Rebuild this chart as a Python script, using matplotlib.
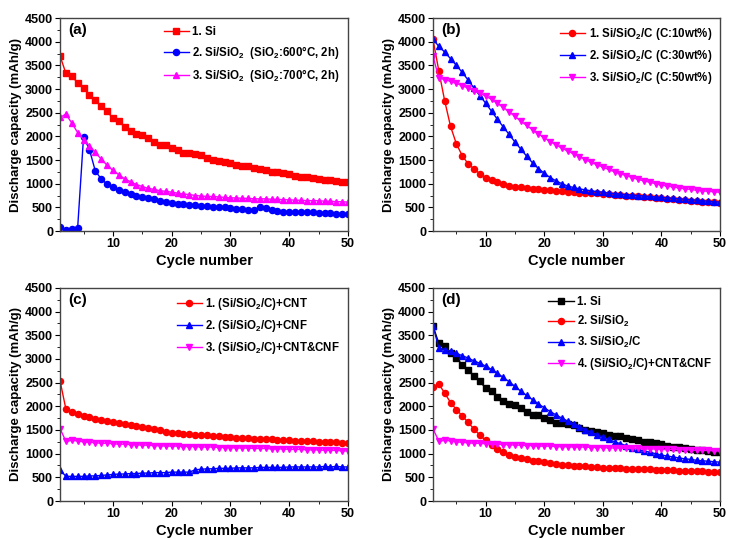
"""Discharge capacity vs. cycle number for Si-based anodes, four panels."""

import matplotlib

matplotlib.use("Agg")
import matplotlib.pyplot as plt
from matplotlib.ticker import MultipleLocator

plt.rcParams["font.family"] = ["Liberation Sans", "DejaVu Sans"]
plt.rcParams["font.weight"] = "bold"
plt.rcParams["mathtext.fontset"] = "custom"
plt.rcParams["mathtext.bf"] = "Liberation Sans:bold"
plt.rcParams["mathtext.rm"] = "Liberation Sans:bold"
plt.rcParams["mathtext.default"] = "bf"

cycles = list(range(1, 51))

# (a) Si, Si/SiO2 600C, Si/SiO2 700C
si = [3700, 3330, 3270, 3130, 3020, 2880, 2770, 2640, 2530, 2380,
      2320, 2200, 2120, 2050, 2030, 1960, 1890, 1820, 1820, 1760,
      1720, 1640, 1640, 1630, 1600, 1540, 1500, 1470, 1460, 1430,
      1400, 1380, 1370, 1340, 1310, 1280, 1250, 1250, 1230, 1200,
      1170, 1140, 1140, 1110, 1090, 1070, 1080, 1060, 1040, 1040]
si_sio2_600 = [90, 30, 40, 70, 1990, 1720, 1270, 1100, 990, 920,
               870, 820, 780, 740, 710, 690, 670, 640, 620, 600,
               580, 570, 560, 550, 530, 520, 510, 500, 500, 490,
               470, 460, 450, 450, 500, 480, 450, 420, 410, 410,
               410, 410, 400, 400, 390, 390, 380, 370, 350, 360]
si_sio2_700 = [2400, 2470, 2280, 2080, 1930, 1800, 1660, 1520, 1390, 1280,
               1190, 1100, 1040, 980, 940, 900, 880, 850, 840, 820,
               800, 780, 770, 750, 740, 730, 730, 720, 710, 700,
               700, 690, 690, 680, 680, 680, 670, 670, 660, 660,
               650, 650, 640, 640, 640, 630, 630, 620, 620, 610]

# (b) Si/SiO2/C with 10, 30, 50 wt% C
c10 = [4050, 3380, 2750, 2210, 1840, 1590, 1420, 1310, 1210, 1130,
       1080, 1030, 990, 960, 940, 920, 900, 890, 880, 870,
       860, 850, 840, 830, 820, 810, 810, 800, 800, 790,
       780, 770, 760, 750, 740, 730, 720, 710, 700, 690,
       680, 670, 660, 650, 640, 630, 620, 620, 610, 600]
c30 = [4050, 3900, 3780, 3640, 3500, 3350, 3190, 3020, 2860, 2700,
       2530, 2360, 2200, 2040, 1880, 1730, 1580, 1440, 1320, 1220,
       1130, 1060, 1000, 950, 920, 890, 870, 850, 830, 820,
       800, 790, 780, 770, 760, 750, 740, 730, 720, 710,
       700, 690, 680, 670, 660, 650, 640, 630, 620, 610]
c50 = [3700, 3230, 3200, 3160, 3120, 3070, 3020, 2960, 2910, 2850,
       2780, 2700, 2610, 2520, 2420, 2320, 2230, 2140, 2050, 1970,
       1890, 1820, 1750, 1690, 1630, 1570, 1510, 1450, 1400, 1350,
       1300, 1250, 1210, 1170, 1130, 1090, 1060, 1030, 1000, 970,
       950, 930, 910, 890, 880, 860, 850, 840, 830, 820]

# (c) (Si/SiO2/C) + CNT, CNF, CNT&CNF
cnt = [2540, 1940, 1880, 1840, 1800, 1770, 1740, 1710, 1690, 1660,
       1640, 1620, 1600, 1580, 1560, 1540, 1520, 1500, 1450, 1440,
       1430, 1420, 1410, 1400, 1400, 1390, 1380, 1370, 1360, 1350,
       1340, 1330, 1330, 1320, 1310, 1300, 1300, 1290, 1290, 1280,
       1270, 1270, 1260, 1260, 1250, 1250, 1240, 1240, 1230, 1230]
cnf = [660, 520, 520, 520, 520, 530, 530, 540, 550, 560,
       570, 570, 580, 580, 590, 590, 600, 600, 600, 610,
       610, 610, 610, 660, 670, 680, 680, 690, 690, 690,
       700, 700, 700, 700, 710, 710, 710, 710, 710, 720,
       720, 720, 720, 720, 720, 730, 720, 730, 720, 720]
cnt_cnf = [1530, 1260, 1280, 1270, 1250, 1240, 1230, 1220, 1220, 1210,
           1200, 1200, 1190, 1190, 1180, 1180, 1170, 1170, 1160, 1160,
           1160, 1150, 1150, 1150, 1140, 1140, 1140, 1130, 1130, 1130,
           1120, 1120, 1120, 1110, 1110, 1110, 1100, 1100, 1100, 1090,
           1090, 1090, 1080, 1080, 1080, 1070, 1070, 1070, 1060, 1060]

RED, BLUE, MAGENTA, BLACK = "#ff0000", "#0000ff", "#ff00ff", "#000000"

panels = [
    ("(a)", [0.0819, 0.5714, 0.3929, 0.3952], [
        (si, "1. Si", RED, "s"),
        (si_sio2_600, "2. Si/SiO$_2$  (SiO$_2$:600\u00b0C, 2h)", BLUE, "o"),
        (si_sio2_700, "3. Si/SiO$_2$  (SiO$_2$:700\u00b0C, 2h)", MAGENTA, "^"),
    ]),
    ("(b)", [0.5907, 0.5714, 0.3915, 0.3952], [
        (c10, "1. Si/SiO$_2$/C (C:10wt%)", RED, "o"),
        (c30, "2. Si/SiO$_2$/C (C:30wt%)", BLUE, "^"),
        (c50, "3. Si/SiO$_2$/C (C:50wt%)", MAGENTA, "v"),
    ]),
    ("(c)", [0.0819, 0.0705, 0.3929, 0.3952], [
        (cnt, "1. (Si/SiO$_2$/C)+CNT", RED, "o"),
        (cnf, "2. (Si/SiO$_2$/C)+CNF", BLUE, "^"),
        (cnt_cnf, "3. (Si/SiO$_2$/C)+CNT&CNF", MAGENTA, "v"),
    ]),
    ("(d)", [0.5907, 0.0705, 0.3915, 0.3952], [
        (si, "1. Si", BLACK, "s"),
        (si_sio2_700, "2. Si/SiO$_2$", RED, "o"),
        (c50, "3. Si/SiO$_2$/C", BLUE, "^"),
        (cnt_cnf, "4. (Si/SiO$_2$/C)+CNT&CNF", MAGENTA, "v"),
    ]),
]

fig = plt.figure(figsize=(7.33, 5.39), dpi=100)

for tag, rect, series in panels:
    ax = fig.add_axes(rect)
    for ys, label, color, marker in series:
        ax.plot(cycles, ys, color=color, marker=marker, markersize=4.4,
                linewidth=1.0, label=label)

    ax.set_xlim(1, 50)
    ax.set_ylim(0, 4500)
    ax.xaxis.set_major_locator(MultipleLocator(10))
    ax.xaxis.set_minor_locator(MultipleLocator(5))
    ax.yaxis.set_major_locator(MultipleLocator(500))
    ax.yaxis.set_minor_locator(MultipleLocator(250))
    ax.tick_params(which="both", direction="out", labelsize=9, pad=1.5)
    ax.tick_params(which="major", length=3.5)
    ax.tick_params(which="minor", length=2)
    ax.tick_params(top=False, right=False)
    for spine in ax.spines.values():
        spine.set_color("#444444")
        spine.set_linewidth(1.0)

    ax.set_xlabel("Cycle number", fontsize=10.5, fontweight="bold", labelpad=3)
    ax.set_ylabel("Discharge capacity (mAh/g)", fontsize=9.5, fontweight="bold", labelpad=2)
    ax.text(0.03, 0.975, tag, transform=ax.transAxes, ha="left", va="top",
            fontsize=11, fontweight="bold")
    ax.legend(loc="upper right", frameon=False, fontsize=8.3, handlelength=2.2,
              handletextpad=0.3, labelspacing=0.5, borderaxespad=0.3)

fig.savefig("out.png", dpi=100)
